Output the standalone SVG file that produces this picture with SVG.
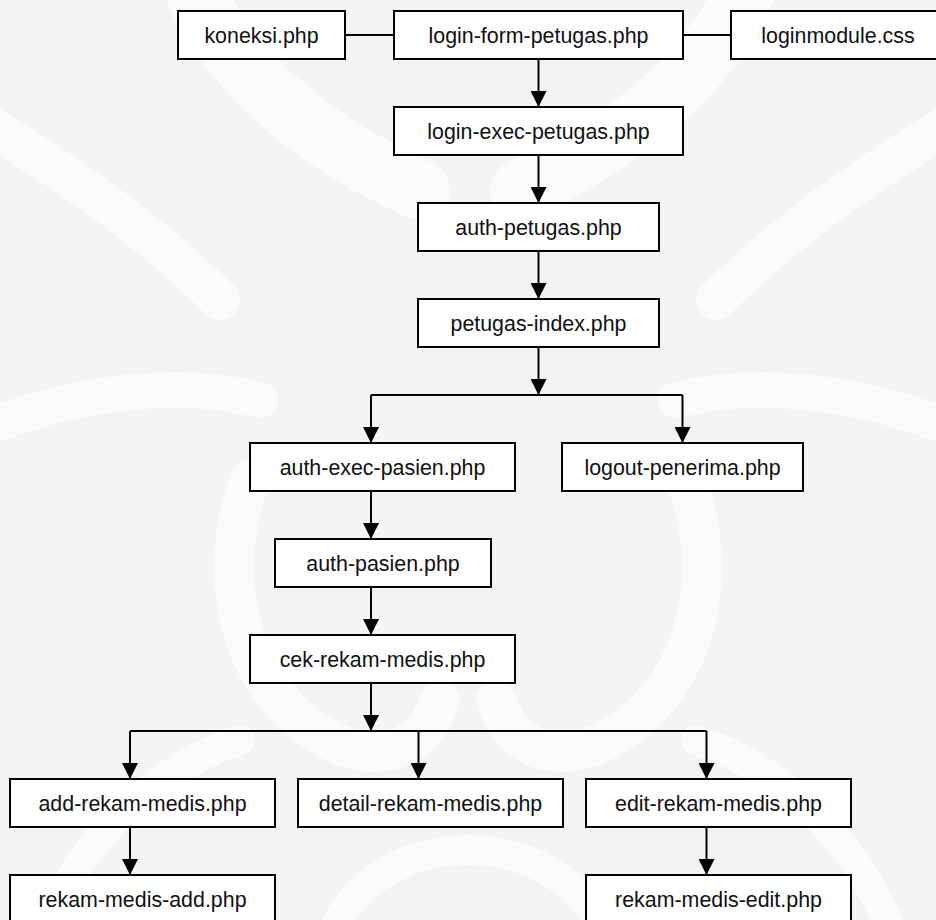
<svg xmlns="http://www.w3.org/2000/svg" width="936" height="920" viewBox="0 0 936 920">
  <style>
    .box { fill: #ffffff; stroke: #000000; stroke-width: 2; }
    .lbl { font-family: "Liberation Sans", Arial, Helvetica, sans-serif; font-size: 21.4px; fill: #111111; text-anchor: middle; }
    .wire { fill: none; stroke: #000000; stroke-width: 2; }
    .arrow { fill: none; stroke: #000000; stroke-width: 2; marker-end: url(#head); }
    .mark { fill: none; stroke: #fbfbfb; stroke-linecap: round; }
  </style>
  <defs>
    <marker id="head" viewBox="0 0 16 16" refX="16" refY="8" markerWidth="16" markerHeight="16" markerUnits="userSpaceOnUse" orient="auto">
      <path d="M0,0 L16,8 L0,16 Z" fill="#000000"/>
    </marker>
  </defs>

  <!-- faint background ornament -->
  <g id="backdrop">
    <rect x="0" y="0" width="936" height="920" fill="#f4f4f4"/>
    <path class="mark" stroke-width="60" d="M 190 -20 C 230 80, 330 150, 420 190"/>
    <path class="mark" stroke-width="60" d="M 750 -20 C 710 80, 610 150, 520 190"/>
    <path class="mark" stroke-width="40" d="M -20 120 C 80 180, 160 240, 220 300"/>
    <path class="mark" stroke-width="40" d="M 956 120 C 856 180, 776 240, 716 300"/>
    <path class="mark" stroke-width="36" d="M -20 430 C 80 390, 180 380, 260 400"/>
    <path class="mark" stroke-width="36" d="M 956 430 C 856 390, 756 380, 676 400"/>
    <path class="mark" stroke-width="40" d="M 250 480 C 220 560, 230 660, 300 720 C 360 770, 420 760, 440 700"/>
    <path class="mark" stroke-width="40" d="M 686 480 C 716 560, 706 660, 636 720 C 576 770, 516 760, 496 700"/>
    <path class="mark" stroke-width="30" d="M 40 940 C 80 840, 150 770, 240 740"/>
    <path class="mark" stroke-width="30" d="M 896 940 C 856 840, 786 770, 696 740"/>
    <path class="mark" stroke-width="30" d="M 330 940 C 350 880, 410 850, 468 850 C 526 850, 586 880, 606 940"/>
  </g>

  <!-- connectors -->
  <g id="connectors">
    <line class="wire" x1="345" y1="35" x2="394" y2="35"/>
    <line class="wire" x1="683" y1="35" x2="731" y2="35"/>
    <line class="arrow" x1="538.5" y1="59" x2="538.5" y2="107"/>
    <line class="arrow" x1="538.5" y1="155" x2="538.5" y2="203"/>
    <line class="arrow" x1="538.5" y1="251" x2="538.5" y2="299"/>
    <line class="arrow" x1="538.5" y1="347" x2="538.5" y2="395"/>
    <polyline class="wire" points="371,395 682.5,395"/>
    <line class="arrow" x1="371" y1="395" x2="371" y2="443"/>
    <line class="arrow" x1="682.5" y1="395" x2="682.5" y2="443"/>
    <line class="arrow" x1="371" y1="491" x2="371" y2="539"/>
    <line class="arrow" x1="371" y1="587" x2="371" y2="635"/>
    <line class="arrow" x1="371" y1="683" x2="371" y2="731"/>
    <polyline class="wire" points="130,731 706.5,731"/>
    <line class="arrow" x1="130" y1="731" x2="130" y2="779"/>
    <line class="arrow" x1="418.5" y1="731" x2="418.5" y2="779"/>
    <line class="arrow" x1="706.5" y1="731" x2="706.5" y2="779"/>
    <line class="arrow" x1="130" y1="827" x2="130" y2="875"/>
    <line class="arrow" x1="706.5" y1="827" x2="706.5" y2="875"/>
  </g>

  <!-- nodes -->
  <g id="koneksi">
    <rect class="box" x="178" y="11" width="167" height="48"/>
    <text class="lbl" x="261.5" y="42.5">koneksi.php</text>
  </g>
  <g id="login-form-petugas">
    <rect class="box" x="394" y="11" width="289" height="48"/>
    <text class="lbl" x="538.5" y="42.5">login-form-petugas.php</text>
  </g>
  <g id="loginmodule">
    <rect class="box" x="731" y="11" width="214" height="48"/>
    <text class="lbl" x="838" y="42.5">loginmodule.css</text>
  </g>
  <g id="login-exec-petugas">
    <rect class="box" x="394" y="107" width="289" height="48"/>
    <text class="lbl" x="538.5" y="138.5">login-exec-petugas.php</text>
  </g>
  <g id="auth-petugas">
    <rect class="box" x="418" y="203" width="241" height="48"/>
    <text class="lbl" x="538.5" y="234.5">auth-petugas.php</text>
  </g>
  <g id="petugas-index">
    <rect class="box" x="418" y="299" width="241" height="48"/>
    <text class="lbl" x="538.5" y="330.5">petugas-index.php</text>
  </g>
  <g id="auth-exec-pasien">
    <rect class="box" x="250" y="443" width="265" height="48"/>
    <text class="lbl" x="382.5" y="474.5">auth-exec-pasien.php</text>
  </g>
  <g id="logout-penerima">
    <rect class="box" x="562" y="443" width="241" height="48"/>
    <text class="lbl" x="682.5" y="474.5">logout-penerima.php</text>
  </g>
  <g id="auth-pasien">
    <rect class="box" x="275" y="539" width="216" height="48"/>
    <text class="lbl" x="383" y="570.5">auth-pasien.php</text>
  </g>
  <g id="cek-rekam-medis">
    <rect class="box" x="250" y="635" width="265" height="48"/>
    <text class="lbl" x="382.5" y="666.5">cek-rekam-medis.php</text>
  </g>
  <g id="add-rekam-medis">
    <rect class="box" x="10" y="779" width="265" height="48"/>
    <text class="lbl" x="142.5" y="810.5">add-rekam-medis.php</text>
  </g>
  <g id="detail-rekam-medis">
    <rect class="box" x="298" y="779" width="265" height="48"/>
    <text class="lbl" x="430.5" y="810.5">detail-rekam-medis.php</text>
  </g>
  <g id="edit-rekam-medis">
    <rect class="box" x="586" y="779" width="265" height="48"/>
    <text class="lbl" x="718.5" y="810.5">edit-rekam-medis.php</text>
  </g>
  <g id="rekam-medis-add">
    <rect class="box" x="10" y="875" width="265" height="50"/>
    <text class="lbl" x="142.5" y="906.5">rekam-medis-add.php</text>
  </g>
  <g id="rekam-medis-edit">
    <rect class="box" x="586" y="875" width="265" height="50"/>
    <text class="lbl" x="718.5" y="906.5">rekam-medis-edit.php</text>
  </g>
</svg>
